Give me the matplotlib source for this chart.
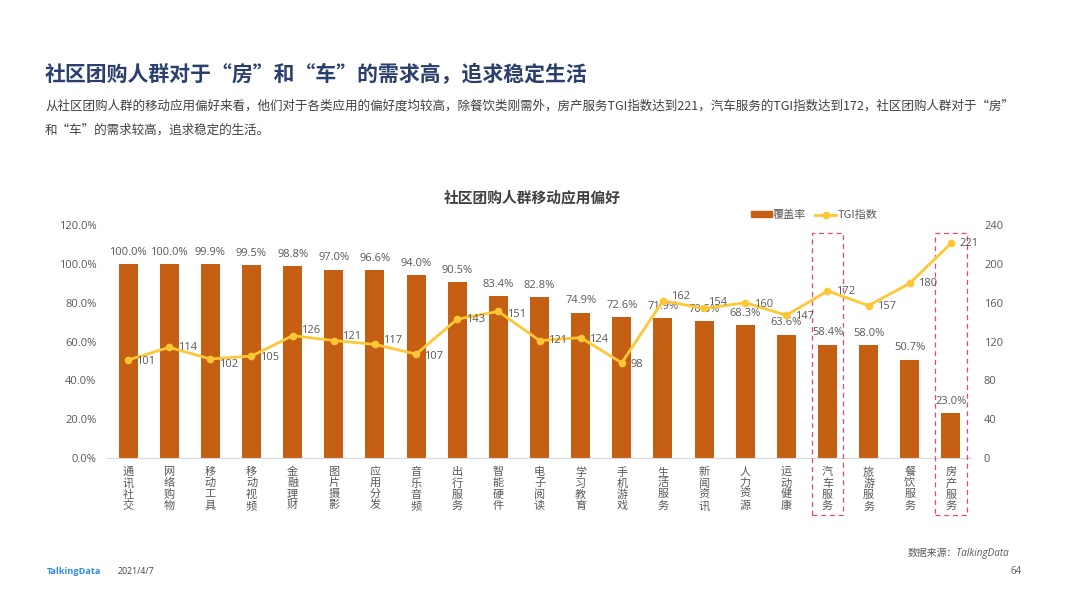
import matplotlib.pyplot as plt
from matplotlib.patches import Rectangle, Patch
from matplotlib.lines import Line2D

plt.rcParams['font.family'] = ['Open Sans', 'Noto Sans CJK SC', 'DejaVu Sans']
CJK_FIRST = ['Noto Sans CJK SC', 'Open Sans', 'DejaVu Sans']

# Data
categories = ["通讯社交", "网络购物", "移动工具", "移动视频", "金融理财", "图片摄影", "应用分发",
              "音乐音频", "出行服务", "智能硬件", "电子阅读", "学习教育", "手机游戏", "生活服务",
              "新闻资讯", "人力资源", "运动健康", "汽车服务", "旅游服务", "餐饮服务", "房产服务"]
coverage = [100.0, 100.0, 99.9, 99.5, 98.8, 97.0, 96.6, 94.0, 90.5, 83.4, 82.8,
            74.9, 72.6, 71.9, 70.5, 68.3, 63.6, 58.4, 58.0, 50.7, 23.0]
tgi = [101, 114, 102, 105, 126, 121, 117, 107, 143, 151, 121,
       124, 98, 162, 154, 160, 147, 172, 157, 180, 221]
left_ticks = [0, 20, 40, 60, 80, 100, 120]
right_ticks = [0, 40, 80, 120, 160, 200, 240]
highlighted = ["汽车服务", "房产服务"]

# Label offsets in points, tuned by eye
tgi_offsets = [(6, -1), (6, 0), (6, -4), (6, -1), (6, 4), (6, 3), (6, 3), (6, -2), (6, 0), (6, -2), (6, 0),
               (6, -1), (6, -1), (6, 3), (3, 4), (6, -1), (6, -1), (6, 0), (6, -1), (6, 0), (6, 0)]

TEXT = "#595959"
BAR = "#C55F14"
LINE = "#FFC736"
PINK = "#E8496E"

fig = plt.figure(figsize=(10.66, 5.99), dpi=100)
ax = fig.add_axes([107.5 / 1066, 1 - 458 / 599, 864 / 1066, 233 / 599])
x = list(range(len(categories)))

ax.bar(x, coverage, width=0.46, color=BAR, zorder=2)
ax.set_xlim(-0.5, len(categories) - 0.5)
ax.set_ylim(0, 120)
ax.set_yticks(left_ticks)
ax.set_yticklabels([f"{v:.1f}%" for v in left_ticks])
ax.set_xticks(x)
ax.set_xticklabels(["\n".join(c) for c in categories], linespacing=1.12, va="top", family=CJK_FIRST)
ax.tick_params(axis="both", length=0, labelsize=8, labelcolor=TEXT)
ax.tick_params(axis="x", pad=6.5)
ax.tick_params(axis="y", pad=8)
for side in ["top", "left", "right"]:
    ax.spines[side].set_visible(False)
ax.spines["bottom"].set_color("#D9D9D9")

ax2 = ax.twinx()
ax2.plot(x, tgi, color=LINE, lw=2, marker="o", ms=4.5, zorder=3)
ax2.set_ylim(0, 240)
ax2.set_yticks(right_ticks)
ax2.tick_params(axis="y", length=0, labelsize=8, labelcolor=TEXT, pad=9)
for side in ["top", "left", "right", "bottom"]:
    ax2.spines[side].set_visible(False)

# Data labels
for i, v in enumerate(coverage):
    ax.annotate(f"{v:.1f}%", (i, v), xytext=(0, 4.5), textcoords="offset points",
                ha="center", va="bottom", fontsize=8, color=TEXT)
for i, v in enumerate(tgi):
    ax2.annotate(str(v), (i, v), xytext=tgi_offsets[i], textcoords="offset points",
                 ha="left", va="center", fontsize=8, color=TEXT)

# Dashed boxes around the two highlighted categories
trans = ax.get_xaxis_transform()
for name in highlighted:
    i = categories.index(name)
    ax.add_patch(Rectangle((i - 0.38, -57 / 233), 0.76, 282 / 233, transform=trans, fill=False,
                           ec=PINK, ls=(0, (4, 3)), lw=0.9, clip_on=False, zorder=5))

# Legend
handles = [Patch(color=BAR, label="覆盖率"),
           Line2D([0], [0], color=LINE, lw=2, marker="o", ms=4.5, label="TGI指数")]
fig.legend(handles=handles, loc="center", bbox_to_anchor=(814 / 1066, 1 - 215 / 599), ncol=2, frameon=False,
           labelcolor=TEXT, handlelength=1.9, handleheight=0.5, handletextpad=0.1, columnspacing=0.8,
           prop={'family': CJK_FIRST, 'size': 8})

# Page text
fig.text(45 / 1066, 1 - 75 / 599, "社区团购人群对于“房”和“车”的需求高，追求稳定生活", fontsize=15,
         fontweight="bold", color="#2A3F6D", va="center", family=CJK_FIRST)
fig.text(45 / 1066, 1 - 106 / 599,
         "从社区团购人群的移动应用偏好来看，他们对于各类应用的偏好度均较高，除餐饮类刚需外，房产服务TGI指数达到221，"
         "汽车服务的TGI指数达到172，社区团购人群对于“房”", fontsize=9.04, color="#404040", va="center", family=CJK_FIRST)
fig.text(45 / 1066, 1 - 130 / 599, "和“车”的需求较高，追求稳定的生活。", fontsize=9.04, color="#404040", va="center",
         family=CJK_FIRST)
fig.text(532 / 1066, 1 - 197 / 599, "社区团购人群移动应用偏好", fontsize=10.6, fontweight="bold",
         color="#404040", ha="center", va="center", family=CJK_FIRST)
fig.text(1009 / 1066, 1 - 553 / 599, "数据来源：TalkingData", fontsize=7.1, style="italic", color=TEXT,
         ha="right", va="center")
fig.text(47 / 1066, 1 - 571 / 599, "TalkingData", fontsize=6.6, fontweight="bold", color="#2F8CEB", va="center")
fig.text(118 / 1066, 1 - 572 / 599, "2021/4/7", fontsize=6.3, color="#404040", va="center")
fig.text(1016 / 1066, 1 - 571 / 599, "64", fontsize=7, color=TEXT, ha="center", va="center")

plt.savefig("out.png", dpi=100)
